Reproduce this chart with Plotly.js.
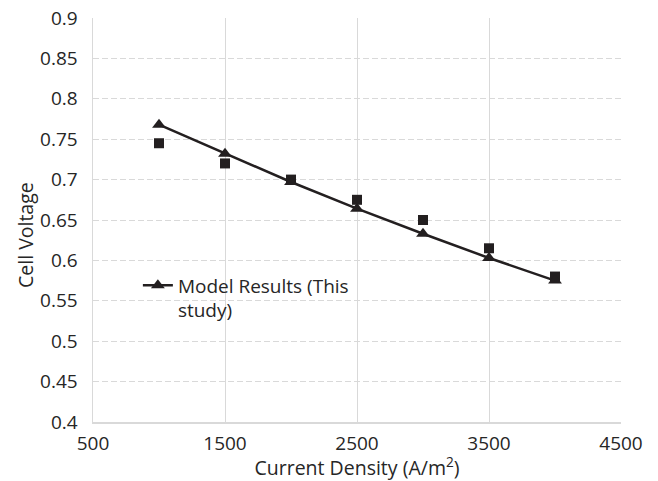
<!DOCTYPE html>
<html>
<head>
<meta charset="utf-8">
<script src="https://cdn.plot.ly/plotly-3.0.1.min.js"></script>
<style>html,body{margin:0;padding:0;background:#fff;}#chart{width:658px;height:481px;}</style>
</head>
<body>
<div id="chart"></div>
<script>
const currentDensity = [1000, 1500, 2000, 2500, 3000, 3500, 4000];
const modelVoltage = [0.768, 0.732, 0.697, 0.664, 0.633, 0.603, 0.575];
const experimentVoltage = [0.745, 0.720, 0.700, 0.675, 0.650, 0.615, 0.580];
const modelName = 'Model Results (This<br>study)';
const experimentName = 'Experimental';
const xTitle = 'Current Density (A/m<sup>2</sup>)';
const yTitle = 'Cell Voltage';

const fontFam = '"Open Sans", "Noto Sans", sans-serif';
const ink = '#231f20';
const txt = '#262626';

const traces = [
  {
    x: currentDensity, y: experimentVoltage, name: experimentName,
    type: 'scatter', mode: 'markers', showlegend: false,
    marker: {symbol: 'square', size: 10, color: ink}
  },
  {
    x: currentDensity, y: modelVoltage, name: modelName,
    type: 'scatter', mode: 'lines+markers',
    line: {color: ink, width: 2.5},
    marker: {symbol: 'triangle-up', size: 12, color: ink}
  }
];

const layout = {
  width: 658, height: 481,
  margin: {l: 93, r: 37, t: 18, b: 59},
  paper_bgcolor: '#fff', plot_bgcolor: '#fff',
  font: {family: fontFam, color: txt, size: 19},
  showlegend: true,
  legend: {x: 0.085, y: 0.385, xanchor: 'left', yanchor: 'top', valign: 'top',
           bgcolor: 'rgba(0,0,0,0)', font: {family: fontFam, size: 19, color: txt}},
  xaxis: {
    range: [500, 4500], tick0: 500, dtick: 1000, tickmode: 'linear',
    showgrid: true, gridcolor: '#d9d9d9', gridwidth: 1,
    showline: true, linecolor: '#d9d9d9', linewidth: 1.5,
    zeroline: false, ticks: '', ticklabelstandoff: 4,
    tickfont: {family: fontFam, size: 19, color: txt},
    title: {text: xTitle, font: {family: fontFam, size: 19.5, color: txt}, standoff: 6}
  },
  yaxis: {
    range: [0.4, 0.9], tick0: 0.4, dtick: 0.05, tickmode: 'linear',
    showgrid: true, gridcolor: '#d9d9d9', gridwidth: 1, griddash: '6px,3px',
    showline: true, linecolor: '#d9d9d9', linewidth: 1.5,
    zeroline: false, ticks: '', ticklabelstandoff: 10,
    tickfont: {family: fontFam, size: 19, color: txt}
  },
  annotations: [{
    text: yTitle, textangle: -90, showarrow: false,
    xref: 'paper', yref: 'paper', x: (25 - 93) / 528, y: (422 - 235) / 404,
    xanchor: 'center', yanchor: 'middle',
    font: {family: fontFam, size: 19.5, color: txt}
  }]
};

Plotly.newPlot('chart', traces, layout, {staticPlot: true, displayModeBar: false});
</script>
</body>
</html>
